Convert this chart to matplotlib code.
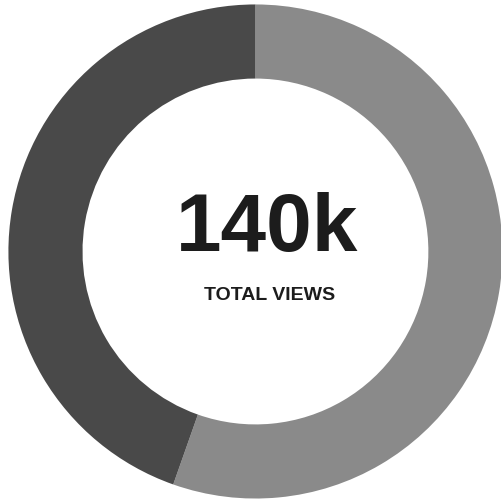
import matplotlib
matplotlib.use("Agg")
import matplotlib.pyplot as plt

# segment shares (clockwise from top)
labels = ["Segment A", "Segment B"]
shares = [55.4, 44.6]
colors = ["#8a8a8a", "#494949"]

TOTAL_TEXT = "140k"
SUB_TEXT = "TOTAL VIEWS"

fig = plt.figure(figsize=(5.02, 5.01), dpi=100)
ax = fig.add_axes([0.0, 0.0, 1.0, 1.0])

ax.pie(shares, colors=colors, startangle=90, counterclock=False,
       radius=1.0, center=(0.0, 0.0),
       wedgeprops=dict(width=0.30, edgecolor="none"))

ax.text(0.049, 0.088, TOTAL_TEXT, ha="center", va="center",
        fontsize=59, fontweight="bold", color="#1c1c1c",
        family="Liberation Sans")
ax.text(0.059, -0.18, SUB_TEXT, ha="center", va="center",
        fontsize=14, fontweight="bold", color="#1c1c1c",
        family="Liberation Sans")

ax.set_xlim(-1.034, 0.998)
ax.set_ylim(-1.010, 1.018)
ax.set_aspect("equal")
ax.axis("off")

fig.savefig("out.png", dpi=100)
